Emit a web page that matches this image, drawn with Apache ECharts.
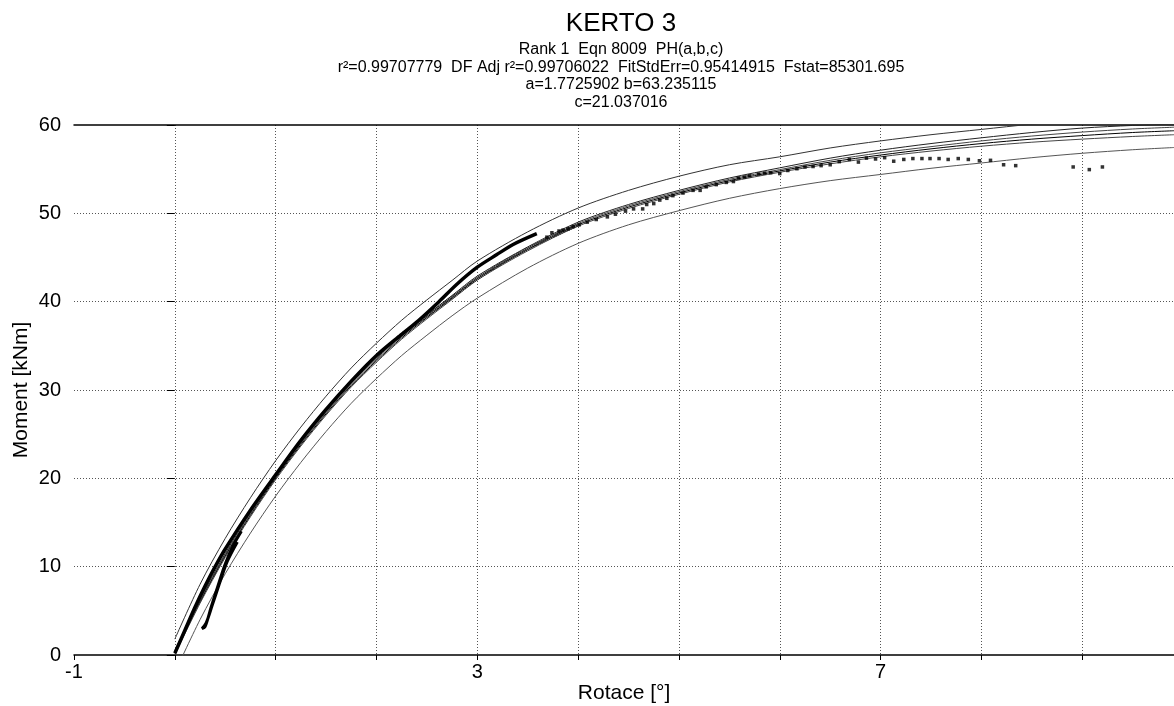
<!DOCTYPE html>
<html><head><meta charset="utf-8">
<script src="https://cdn.jsdelivr.net/npm/echarts/dist/echarts.min.js"></script>
<style>html,body{margin:0;padding:0;background:#fff}#c{width:1174px;height:706px}</style>
</head><body><div id="c"></div>
<script>
// ---- texts ----
const titleText = 'KERTO 3';
const subtitleLines = [
  'Rank 1  Eqn 8009  PH(a,b,c)',
  'r²=0.99707779  DF Adj r²=0.99706022  FitStdErr=0.95414915  Fstat=85301.695',
  'a=1.7725902 b=63.235115',
  'c=21.037016'
];
const xAxisName = 'Rotace [°]';
const yAxisName = 'Moment [kNm]';
const xTickLabels = [-1, 3, 7];
const yTickLabels = [0, 10, 20, 30, 40, 50, 60];

// ---- fitted curve and bands ----
const curveX     = [0, 0.25, 0.5, 0.75, 1, 1.25, 1.5, 1.75, 2, 2.25, 2.5, 2.75, 3, 3.5, 4, 4.5, 5, 5.5, 6, 6.5, 7, 7.5, 8, 8.5, 9, 9.5, 9.91];
const fitY       = [0.2, 6.0, 11.2, 15.8, 20.0, 23.8, 27.3, 30.5, 33.3, 35.9, 38.2, 40.4, 42.6, 45.9, 48.7, 50.7, 52.3, 53.7, 54.8, 55.8, 56.6, 57.3, 57.9, 58.4, 58.8, 59.15, 59.35];
const confHi2Y   = [0.5, 6.3, 11.5, 16.1, 20.3, 24.1, 27.6, 30.8, 33.6, 36.2, 38.5, 40.7, 42.9, 46.2, 49.0, 51.0, 52.6, 54.0, 55.15, 56.25, 57.15, 57.9, 58.55, 59.15, 59.65, 59.95, 60.1];
const confHi1Y   = [0.35, 6.15, 11.35, 15.95, 20.15, 23.95, 27.45, 30.65, 33.45, 36.05, 38.35, 40.55, 42.75, 46.05, 48.85, 50.85, 52.45, 53.85, 54.95, 56.0, 56.85, 57.55, 58.2, 58.75, 59.2, 59.55, 59.75];
const confLoY    = [0.05, 5.85, 11.05, 15.65, 19.85, 23.65, 27.15, 30.35, 33.15, 35.75, 38.05, 40.25, 42.45, 45.75, 48.55, 50.55, 52.15, 53.55, 54.65, 55.6, 56.4, 57.05, 57.6, 58.05, 58.4, 58.7, 58.9];
const predHiY    = [1.8, 8.0, 13.2, 17.8, 22.0, 25.8, 29.3, 32.5, 35.3, 37.9, 40.2, 42.4, 44.6, 47.9, 50.6, 52.6, 54.2, 55.5, 56.4, 57.4, 58.2, 58.9, 59.5, 60.1, 60.6, 61.0, 61.3];
const predLoY    = [-2.0, 4.0, 9.2, 13.8, 18.0, 21.8, 25.3, 28.5, 31.3, 33.9, 36.2, 38.4, 40.4, 43.8, 46.6, 48.7, 50.3, 51.7, 52.8, 53.7, 54.4, 55.1, 55.7, 56.3, 56.8, 57.2, 57.45];

const denseX = [0, 0.1, 0.2, 0.3, 0.4, 0.5, 0.75, 1.0, 1.25, 1.5, 1.75, 2.0, 2.25, 2.42, 2.62, 2.8, 3.0, 3.19, 3.36, 3.59];
const denseY = [0.2, 2.8, 5.4, 7.8, 10.0, 12.0, 16.4, 20.4, 24.3, 27.8, 31.0, 33.9, 36.3, 37.9, 40.0, 42.0, 43.9, 45.3, 46.5, 47.7];
const midX = [2.2, 2.5, 2.75, 3.0, 3.25, 3.5, 3.75, 4.0];
const midY = [35.9, 38.4, 40.5, 42.6, 44.4, 46.0, 47.4, 48.7];
const loopX = [0.62, 0.52, 0.44, 0.37, 0.31, 0.27, 0.30, 0.36, 0.43, 0.50, 0.58, 0.66];
const loopY = [12.8, 10.6, 8.0, 5.6, 3.6, 3.0, 3.2, 5.4, 7.9, 10.3, 12.4, 14.0];
const pointsX = [3.69,3.74,3.81,3.85,3.90,3.95,4.01,4.09,4.18,4.29,4.37,4.47,4.55,4.64,4.68,4.75,4.81,4.88,4.94,5.04,5.14,5.21,5.27,5.37,5.47,5.54,5.59,5.65,5.70,5.79,5.85,5.91,6.00,6.08,6.17,6.25,6.33,6.41,6.50,6.59,6.69,6.78,6.86,6.95,7.04,7.13,7.23,7.32,7.41,7.49,7.58,7.67,7.77,7.87,7.98,8.09,8.22,8.34,8.91,9.07,9.20];
const pointsY = [47.3,47.8,48.0,48.1,48.25,48.5,48.7,49.0,49.3,49.6,49.9,50.25,50.5,50.5,51.0,51.1,51.5,51.7,52.0,52.3,52.6,52.6,53.0,53.25,53.5,53.6,54.0,54.1,54.25,54.45,54.55,54.6,54.5,54.85,55.05,55.25,55.3,55.4,55.5,55.85,56.1,55.8,56.25,56.15,56.3,55.9,56.1,56.2,56.2,56.2,56.2,56.1,56.2,56.1,55.95,56.0,55.5,55.4,55.25,54.95,55.25];

const zip = (xs, ys) => xs.map((x, i) => [x, ys[i]]);
const FONT = 'Arial, "Liberation Sans", sans-serif';

function curve(ys, color, width, z) {
  return { type: 'line', data: zip(curveX, ys), symbol: 'none', smooth: 0.3, clip: true,
    lineStyle: { color: color, width: width }, z: z, silent: true };
}

const chart = echarts.init(document.getElementById('c'), null, { renderer: 'canvas' });
chart.setOption({
  animation: false,
  backgroundColor: '#fff',
  title: {
    text: titleText,
    subtext: subtitleLines.join('\n'),
    left: 621, top: 11, textAlign: 'center', padding: 0, itemGap: 4,
    textStyle: { fontFamily: FONT, fontSize: 26, fontWeight: 'normal', color: '#000' },
    subtextStyle: { fontFamily: FONT, fontSize: 16, color: '#000', lineHeight: 17.5 }
  },
  grid: { left: 74, right: 0, top: 125, bottom: 51, outerBoundsMode: 'none' },
  xAxis: [{
    type: 'value', min: -1, max: 9.91, interval: 1, position: 'bottom',
    name: xAxisName, nameLocation: 'middle', nameGap: 28, nameMoveOverlap: false,
    nameTextStyle: { fontFamily: FONT, fontSize: 21, color: '#000' },
    axisLine: { show: true, onZero: false, lineStyle: { color: '#000', width: 1.5 } },
    axisTick: { show: true, length: 5, lineStyle: { color: '#000' } },
    axisLabel: { fontFamily: FONT, fontSize: 20, color: '#000', margin: 7,
      formatter: v => (xTickLabels.indexOf(Math.round(v * 1000) / 1000) >= 0 ? String(Math.round(v)) : '') ,
      showMinLabel: true, showMaxLabel: false, hideOverlap: false },
    splitLine: { show: true, showMinLine: false, showMaxLine: false, lineStyle: { color: '#555', type: [1, 2], width: 1 } }
  }, {
    type: 'value', min: -1, max: 9.91, interval: 1, position: 'top',
    axisLine: { show: true, onZero: false, lineStyle: { color: '#000', width: 1.5 } },
    axisTick: { show: false }, axisLabel: { show: false }, splitLine: { show: false }
  }],
  yAxis: {
    type: 'value', min: 0, max: 60, interval: 10,
    name: yAxisName, nameLocation: 'middle', nameGap: 42, nameMoveOverlap: false,
    nameTextStyle: { fontFamily: FONT, fontSize: 21, color: '#000' },
    axisLine: { show: false },
    axisTick: { show: true, length: 8, lineStyle: { color: '#000' } },
    axisLabel: { fontFamily: FONT, fontSize: 20, color: '#000', margin: 13,
      formatter: v => (yTickLabels.indexOf(v) >= 0 ? String(v) : ''), hideOverlap: false },
    splitLine: { show: true, showMinLine: false, showMaxLine: false, lineStyle: { color: '#555', type: [1, 2], width: 1 } }
  },
  series: [
    curve(predHiY, '#333', 1, 2),
    curve(predLoY, '#555', 1, 2),
    curve(confHi2Y, '#222', 1, 2),
    curve(confHi1Y, '#444', 1, 2),
    curve(fitY, '#000', 1, 2),
    curve(confLoY, '#444', 1, 2),
    { type: 'line', data: zip(midX, midY), symbol: 'none', smooth: 0.3, z: 3,
      lineStyle: { color: '#222', width: 3, type: [1, 1] } },
    { type: 'line', data: zip(denseX, denseY), symbol: 'none', smooth: 0.3, z: 4,
      lineStyle: { color: '#000', width: 3.5 } },
    { type: 'line', data: zip(loopX, loopY), symbol: 'none', smooth: 0.3, z: 4,
      lineStyle: { color: '#000', width: 3 } },
    { type: 'scatter', data: zip(pointsX, pointsY), symbol: 'rect', symbolSize: 3.5, z: 5,
      itemStyle: { color: '#000' } }
  ]
});
</script>
</body></html>
